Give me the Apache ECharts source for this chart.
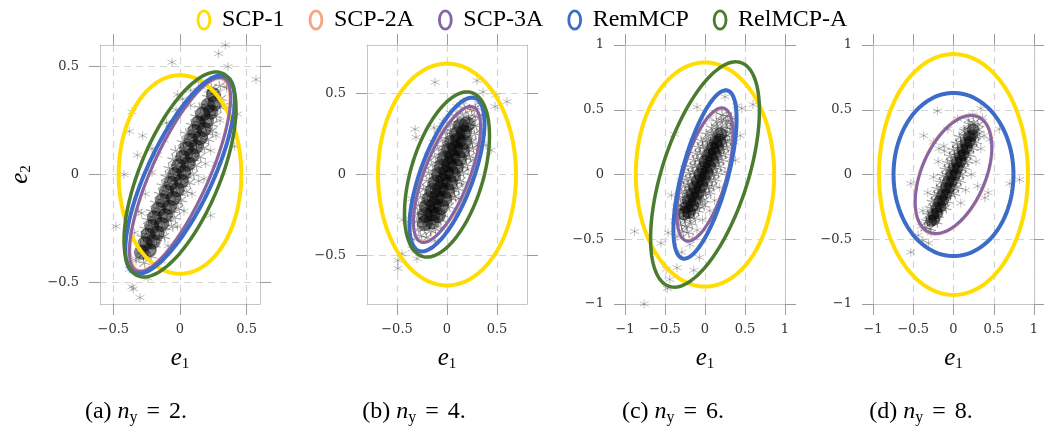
<!DOCTYPE html>
<html lang="en">
<head>
<meta charset="UTF-8">
<title>Ellipsoidal bounds</title>
<script src="https://cdn.jsdelivr.net/npm/echarts@6/dist/echarts.min.js"></script>
<style>
  html, body { margin: 0; padding: 0; background: #fff; }
  #chart { width: 1044px; height: 429px; }
</style>
</head>
<body>
<div id="chart"></div>
<script>
// methods shown in the legend
const methods = ['SCP-1', 'SCP-2A', 'SCP-3A', 'RemMCP', 'RelMCP-A'];
const colors = ['#FFDD00', '#F4A582', '#8466A6', '#3C6CC8', '#4B7B2E'];
const widths = [4, 3, 3, 4, 3.5];

// subfigure captions
const captionLetters = ['a', 'b', 'c', 'd'];
const outputCounts = [2, 4, 6, 8];

// axis half-ranges and tick values
const axisLimits = [0.6, 0.8, 1, 1];
const ticksSmall = [-0.5, 0, 0.5];
const ticksLarge = [-1, -0.5, 0, 0.5, 1];

// ellipses: [half width in e1, half height in e2, e1 at the topmost point], one per method
const ellipsesA = [[0.46, 0.46, 0], [0.375, 0.445, 0.295], [0.38, 0.45, 0.30], [0.41, 0.46, 0.31], [0.42, 0.475, 0.27]];
const ellipsesB = [[0.69, 0.685, 0], [0.34, 0.415, 0.23], [0.335, 0.42, 0.235], [0.375, 0.475, 0.25], [0.425, 0.51, 0.20]];
const ellipsesC = [[0.865, 0.865, 0], [0.355, 0.51, 0.21], [0.35, 0.515, 0.21], [0.395, 0.65, 0.26], [0.68, 0.87, 0.385]];
const ellipsesD = [[0.925, 0.93, 0], [0.48, 0.46, 0.22], [0.475, 0.455, 0.22], [0.745, 0.63, 0], null];

// error samples
const cloudA = [
  [0.24,0.40],[0.30,0.41],[0.21,0.36],[0.26,0.37],[0.31,0.35],[0.15,0.31],[0.20,0.32],[0.25,0.30],[0.30,0.31],
  [0.12,0.27],[0.17,0.26],[0.22,0.28],[0.27,0.27],[0.09,0.23],[0.14,0.24],[0.19,0.22],[0.24,0.23],
  [0.05,0.19],[0.10,0.20],[0.15,0.18],[0.20,0.19],[0.24,0.20],[0.02,0.15],[0.07,0.16],[0.12,0.14],[0.17,0.15],[0.21,0.16],
  [-0.03,0.11],[0.03,0.12],[0.08,0.10],[0.13,0.11],[0.18,0.12],[-0.05,0.07],[0.00,0.08],[0.05,0.06],[0.10,0.07],[0.15,0.08],
  [-0.08,0.03],[-0.03,0.04],[0.02,0.02],[0.07,0.03],[0.12,0.04],[-0.10,-0.01],[-0.05,0.00],[0.00,-0.02],[0.05,-0.01],[0.10,0.00],
  [-0.13,-0.05],[-0.08,-0.04],[-0.03,-0.06],[0.02,-0.05],[0.07,-0.04],[-0.15,-0.09],[-0.10,-0.08],[-0.05,-0.10],[0.00,-0.09],[0.05,-0.08],
  [-0.18,-0.13],[-0.13,-0.12],[-0.08,-0.14],[-0.03,-0.13],[0.01,-0.12],[-0.21,-0.17],[-0.16,-0.16],[-0.11,-0.18],[-0.06,-0.17],[-0.01,-0.16],
  [-0.24,-0.21],[-0.19,-0.20],[-0.14,-0.22],[-0.09,-0.21],[-0.04,-0.20],[-0.26,-0.25],[-0.21,-0.24],[-0.16,-0.26],[-0.11,-0.25],[-0.06,-0.24],
  [-0.28,-0.29],[-0.23,-0.28],[-0.18,-0.30],[-0.12,-0.29],[-0.29,-0.33],[-0.24,-0.34],[-0.19,-0.33],[-0.28,-0.37],[-0.22,-0.38],[-0.27,-0.41]
];
const denseA = [
  [-0.29,-0.36],[-0.23,-0.35],[-0.26,-0.32],[-0.20,-0.31],[-0.24,-0.28],[-0.17,-0.27],[-0.21,-0.24],[-0.14,-0.23],
  [-0.19,-0.20],[-0.11,-0.19],[-0.16,-0.16],[-0.08,-0.15],[-0.13,-0.12],[-0.05,-0.11],[-0.10,-0.08],[-0.02,-0.07],
  [-0.07,-0.04],[0.01,-0.03],[-0.04,0.00],[0.03,0.01],[-0.01,0.04],[0.06,0.05],[0.02,0.08],[0.09,0.09],
  [0.05,0.12],[0.12,0.13],[0.08,0.16],[0.15,0.17],[0.11,0.20],[0.18,0.21],[0.14,0.24],[0.20,0.25],
  [0.17,0.28],[0.23,0.29],[0.21,0.32],[0.26,0.33],[0.25,0.37]
];
const strayA = [
  [0.34,0.60],[0.29,0.56],[-0.06,0.52],[0.36,0.50],[0.57,0.44],[-0.36,0.29],[-0.38,0.20],[-0.28,0.18],[-0.32,0.09],[-0.42,0.00],
  [-0.48,-0.24],[0.23,-0.19],[0.41,0.13],[0.43,0.28],[-0.36,-0.52],[-0.35,-0.53],[-0.30,-0.57],[-0.24,-0.48],[-0.38,-0.44],[-0.33,-0.39],
  [-0.27,-0.38],[0.35,0.41],[0.38,0.32],[0.21,0.39],[-0.02,0.37],[0.08,0.32],[-0.10,0.24],[-0.21,0.12],[0.27,0.05],[0.18,-0.02],
  [-0.29,-0.18],[-0.24,-0.32],[-0.14,-0.29],[-0.33,-0.40],[-0.34,-0.27],[-0.31,-0.17],[-0.26,-0.09],[-0.21,0.01],[-0.17,0.09],[-0.12,0.16],
  [-0.08,0.23],[-0.03,0.30],[0.02,0.35],[0.08,0.39],[0.14,0.43],[-0.14,-0.40],[-0.09,-0.33],[-0.02,-0.24],[0.03,-0.17],[0.09,-0.09],
  [0.14,-0.03],[0.19,0.05],[0.23,0.11],[0.27,0.18],[0.30,0.25],[0.33,0.32],[0.35,0.40]
];

const cloudB = [
  [0.18,0.41],[0.24,0.40],[0.29,0.41],[0.10,0.36],[0.16,0.37],[0.22,0.35],[0.28,0.36],[0.32,0.35],
  [0.05,0.31],[0.11,0.32],[0.17,0.30],[0.23,0.31],[0.29,0.30],[-0.02,0.26],[0.04,0.27],[0.10,0.25],[0.16,0.26],[0.22,0.27],[0.28,0.25],
  [-0.05,0.21],[0.01,0.22],[0.07,0.20],[0.13,0.21],[0.19,0.22],[0.25,0.20],[-0.09,0.16],[-0.03,0.17],[0.03,0.15],[0.09,0.16],[0.15,0.17],[0.21,0.15],[0.26,0.16],
  [-0.12,0.11],[-0.06,0.12],[0.00,0.10],[0.06,0.11],[0.12,0.12],[0.18,0.10],[0.23,0.11],[-0.15,0.06],[-0.09,0.07],[-0.03,0.05],[0.03,0.06],[0.09,0.07],[0.15,0.05],[0.20,0.06],
  [-0.18,0.01],[-0.12,0.02],[-0.06,0.00],[0.00,0.01],[0.06,0.02],[0.11,0.00],[0.16,0.01],[-0.20,-0.04],[-0.14,-0.03],[-0.08,-0.05],[-0.02,-0.04],[0.04,-0.03],[0.09,-0.05],[0.14,-0.04],
  [-0.23,-0.09],[-0.17,-0.08],[-0.11,-0.10],[-0.05,-0.09],[0.01,-0.08],[0.07,-0.10],[0.11,-0.09],[-0.26,-0.14],[-0.20,-0.13],[-0.14,-0.15],[-0.08,-0.14],[-0.02,-0.13],[0.04,-0.15],[0.08,-0.14],
  [-0.28,-0.19],[-0.22,-0.18],[-0.16,-0.20],[-0.10,-0.19],[-0.04,-0.18],[0.02,-0.20],[-0.29,-0.24],[-0.23,-0.25],[-0.17,-0.23],[-0.11,-0.24],[-0.05,-0.25],
  [-0.30,-0.29],[-0.24,-0.28],[-0.18,-0.30],[-0.12,-0.29],[-0.07,-0.28],[-0.29,-0.34],[-0.23,-0.33],[-0.17,-0.35],[-0.12,-0.34],[-0.26,-0.38],[-0.20,-0.39]
];
const denseB = [
  [-0.22,-0.30],[-0.15,-0.29],[-0.22,-0.25],[-0.15,-0.24],[-0.09,-0.25],[-0.20,-0.20],[-0.13,-0.19],[-0.06,-0.20],
  [-0.17,-0.15],[-0.10,-0.14],[-0.03,-0.15],[-0.14,-0.10],[-0.07,-0.09],[0.00,-0.10],[-0.11,-0.05],[-0.04,-0.04],[0.03,-0.05],
  [-0.08,0.00],[-0.01,0.01],[0.06,0.00],[-0.05,0.05],[0.02,0.06],[0.09,0.05],[-0.02,0.10],[0.05,0.11],[0.12,0.10],
  [0.02,0.15],[0.08,0.16],[0.15,0.15],[0.05,0.20],[0.11,0.21],[0.17,0.20],[0.10,0.25],[0.17,0.26],[0.14,0.30],[0.20,0.31]
];
const strayB = [
  [-0.12,0.57],[0.30,0.58],[0.36,0.51],[0.49,0.49],[0.60,0.45],[0.48,0.42],[-0.32,0.28],[-0.31,0.23],[-0.13,0.29],[0.44,0.15],
  [0.39,0.18],[-0.35,-0.15],[-0.44,-0.28],[-0.45,-0.49],[-0.49,-0.53],[-0.49,-0.58],[-0.30,-0.52],[-0.35,-0.46],[0.09,-0.24],[0.25,0.22],
  [0.22,0.34],[-0.33,-0.40],[-0.36,-0.30],[-0.33,-0.20],[-0.28,-0.08],[-0.24,0.03],[-0.19,0.12],[-0.14,0.20],[-0.09,0.27],[-0.04,0.33],
  [0.03,0.38],[0.10,0.42],[0.16,0.45],[0.12,-0.15],[0.16,-0.06],[0.21,0.03],[0.26,0.09],[0.30,0.18],[0.33,0.27],[0.35,0.37],
  [0.31,0.44],[-0.12,-0.41],[-0.06,-0.33]
];

const cloudC = [
  [0.22,0.46],[0.28,0.45],[0.15,0.41],[0.21,0.42],[0.27,0.40],[0.32,0.41],[0.09,0.36],[0.15,0.37],[0.21,0.35],[0.27,0.36],[0.33,0.35],
  [0.03,0.31],[0.09,0.32],[0.15,0.30],[0.21,0.31],[0.27,0.30],[0.32,0.32],[-0.04,0.26],[0.02,0.27],[0.08,0.25],[0.14,0.26],[0.20,0.27],[0.26,0.25],[0.31,0.26],
  [-0.08,0.21],[-0.02,0.22],[0.04,0.20],[0.10,0.21],[0.16,0.22],[0.22,0.20],[0.28,0.21],[-0.11,0.16],[-0.05,0.17],[0.01,0.15],[0.07,0.16],[0.13,0.17],[0.19,0.15],[0.25,0.16],
  [-0.14,0.11],[-0.08,0.12],[-0.02,0.10],[0.04,0.11],[0.10,0.12],[0.16,0.10],[0.22,0.11],[-0.17,0.06],[-0.11,0.07],[-0.05,0.05],[0.01,0.06],[0.07,0.07],[0.13,0.05],[0.19,0.06],
  [-0.20,0.01],[-0.14,0.02],[-0.08,0.00],[-0.02,0.01],[0.04,0.02],[0.10,0.00],[0.16,0.01],[-0.23,-0.04],[-0.17,-0.03],[-0.11,-0.05],[-0.05,-0.04],[0.01,-0.03],[0.07,-0.05],[0.13,-0.04],
  [-0.26,-0.09],[-0.20,-0.08],[-0.14,-0.10],[-0.08,-0.09],[-0.02,-0.08],[0.04,-0.10],[0.10,-0.09],[-0.29,-0.14],[-0.23,-0.13],[-0.17,-0.15],[-0.11,-0.14],[-0.05,-0.13],[0.01,-0.15],[0.06,-0.14],
  [-0.31,-0.19],[-0.25,-0.18],[-0.19,-0.20],[-0.13,-0.19],[-0.07,-0.18],[-0.01,-0.20],[-0.32,-0.24],[-0.26,-0.25],[-0.20,-0.23],[-0.14,-0.24],[-0.08,-0.25],[-0.02,-0.24],
  [-0.33,-0.29],[-0.27,-0.28],[-0.21,-0.30],[-0.15,-0.29],[-0.09,-0.28],[-0.32,-0.34],[-0.26,-0.35],[-0.20,-0.33],[-0.13,-0.34],
  [-0.30,-0.39],[-0.24,-0.40],[-0.17,-0.38],[-0.28,-0.44],[-0.21,-0.45]
];
const denseC = [
  [-0.26,-0.30],[-0.20,-0.29],[-0.23,-0.25],[-0.16,-0.24],[-0.20,-0.20],[-0.12,-0.19],[-0.16,-0.15],[-0.09,-0.14],
  [-0.13,-0.10],[-0.05,-0.09],[-0.09,-0.05],[-0.02,-0.04],[-0.06,0.00],[0.02,0.01],[-0.02,0.05],[0.05,0.06],
  [0.01,0.10],[0.09,0.11],[0.05,0.15],[0.12,0.16],[0.09,0.20],[0.15,0.21],[0.13,0.25],[0.18,0.26],[0.19,0.31]
];
const strayC = [
  [-0.76,-1.0],[-0.88,-0.44],[-0.55,-0.53],[-0.48,-0.73],[-0.35,-0.72],[-0.44,-0.81],[-0.47,-0.88],[-0.14,-0.74],[-0.07,-0.64],[-0.29,-0.60],
  [-0.19,-0.54],[-0.10,0.52],[0.25,0.60],[0.46,0.51],[0.60,0.54],[0.40,0.53],[-0.38,0.31],[0.44,0.30],[0.38,0.11],[-0.42,-0.16],
  [-0.46,-0.45],[-0.38,-0.36],[-0.36,-0.25],[-0.30,-0.05],[-0.26,0.05],[-0.20,0.16],[-0.15,0.26],[-0.08,0.33],[-0.02,0.40],[0.06,0.44],
  [0.14,0.48],[0.33,0.44],[0.36,0.38],[0.37,0.25],[0.32,0.12],[0.25,0.02],[0.18,-0.10],[0.12,-0.20],[0.06,-0.28],[-0.03,-0.35],
  [-0.10,-0.43],[-0.15,-0.49],[-0.35,-0.48]
];

const cloudD = [
  [0.20,0.39],[0.26,0.40],[0.31,0.38],[0.14,0.34],[0.20,0.35],[0.26,0.33],[0.31,0.34],[0.08,0.29],[0.14,0.30],[0.20,0.28],[0.26,0.29],[0.30,0.30],
  [0.04,0.24],[0.10,0.25],[0.16,0.23],[0.22,0.24],[0.28,0.25],[0.00,0.19],[0.06,0.20],[0.12,0.18],[0.18,0.19],[0.24,0.20],
  [-0.04,0.14],[0.02,0.15],[0.08,0.13],[0.14,0.14],[0.20,0.15],[-0.07,0.09],[-0.01,0.10],[0.05,0.08],[0.11,0.09],[0.17,0.10],
  [-0.10,0.04],[-0.04,0.05],[0.02,0.03],[0.08,0.04],[0.14,0.05],[-0.13,-0.01],[-0.07,0.00],[-0.01,-0.02],[0.05,-0.01],[0.11,0.00],
  [-0.16,-0.06],[-0.10,-0.05],[-0.04,-0.07],[0.02,-0.06],[0.08,-0.05],[-0.20,-0.11],[-0.14,-0.10],[-0.08,-0.12],[-0.02,-0.11],[0.05,-0.10],
  [-0.23,-0.16],[-0.17,-0.15],[-0.11,-0.17],[-0.05,-0.16],[0.01,-0.15],[-0.26,-0.21],[-0.20,-0.20],[-0.14,-0.22],[-0.08,-0.21],
  [-0.28,-0.26],[-0.22,-0.25],[-0.16,-0.27],[-0.10,-0.26],[-0.31,-0.31],[-0.25,-0.30],[-0.19,-0.32],[-0.33,-0.36],[-0.27,-0.35],[-0.21,-0.37],
  [-0.35,-0.41],[-0.29,-0.42]
];
const denseD = [
  [-0.28,-0.36],[-0.24,-0.35],[-0.25,-0.31],[-0.20,-0.30],[-0.21,-0.26],[-0.16,-0.25],[-0.18,-0.21],[-0.13,-0.20],
  [-0.14,-0.16],[-0.09,-0.15],[-0.10,-0.11],[-0.05,-0.10],[-0.07,-0.06],[-0.02,-0.05],[-0.03,-0.01],[0.02,0.00],
  [0.00,0.04],[0.05,0.05],[0.04,0.09],[0.09,0.10],[0.08,0.14],[0.12,0.15],[0.11,0.19],[0.16,0.20],
  [0.15,0.24],[0.20,0.25],[0.19,0.29],[0.23,0.30],[0.24,0.35]
];
const strayD = [
  [-0.20,0.49],[0.34,0.51],[-0.37,0.30],[-0.53,-0.07],[0.70,-0.07],[0.82,-0.04],[-0.53,-0.60],[-0.44,-0.47],[-0.38,-0.51],[-0.31,-0.53],
  [-0.28,-0.45],[-0.18,0.20],[-0.11,0.18],[0.43,-0.14],[0.39,-0.18],[0.30,-0.09],[0.18,0.42],[0.05,0.43],[-0.07,0.35],[0.14,0.35],
  [0.57,0.35],[0.36,0.44],[0.38,0.30],[0.34,0.20],[0.28,0.10],[0.22,0.00],[0.15,-0.12],[0.09,-0.22],[-0.12,0.22],[-0.19,0.10],
  [-0.25,-0.02],[-0.32,-0.14],[-0.38,-0.28],[-0.40,-0.40],[-0.25,0.25],[0.24,0.46],[0.45,0.27]
];

const ellipses = [ellipsesA, ellipsesB, ellipsesC, ellipsesD];
const clouds = [cloudA, cloudB, cloudC, cloudD];
const denses = [denseA, denseB, denseC, denseD];
const strays = [strayA, strayB, strayC, strayD];

const gridLeft = [100, 367, 625, 873];
const gridWidth = [160, 160, 160, 161];
const denseSize = [15, 16, 14, 12];
const captionCenter = [131, 409, 668, 916];

const serif = 'Liberation Serif';
const tickFont = 'DejaVu Serif';
const asterisk = 'path://M5,0L5,10M0.67,2.5L9.33,7.5M0.67,7.5L9.33,2.5';
const ring = 'path://M0,10A7,10,0,1,1,14,10A7,10,0,1,1,0,10ZM2.7,10A4.3,7.3,0,1,0,11.3,10A4.3,7.3,0,1,0,2.7,10Z';

const fmt = v => String(v).replace('-', '\u2212');
const nameRich = {
  e: { fontFamily: serif, fontStyle: 'italic', fontSize: 25, lineHeight: 28, color: '#000' },
  s: { fontFamily: serif, fontSize: 15, lineHeight: 15, verticalAlign: 'bottom', color: '#000' }
};

const chart = echarts.init(document.getElementById('chart'));

const grids = [], xAxes = [], yAxes = [], series = [];

function axisPair(i, ticks, lim, isX) {
  const line = { onZero: false, lineStyle: { color: '#c6c6c6', width: 1 } };
  const tick = { inside: false, length: 11, customValues: ticks, lineStyle: { color: '#9c9c9c', width: 1 } };
  const main = {
    gridIndex: i, type: 'value', min: -lim, max: lim,
    position: isX ? 'bottom' : 'left',
    axisLine: line, axisTick: tick,
    axisLabel: { customValues: ticks, formatter: fmt, margin: isX ? 19 : 21, fontFamily: tickFont, fontSize: 13, color: '#333' },
    splitLine: { show: true, lineStyle: { type: [7, 5], color: '#d4d4d4', width: 1.2 } }
  };
  if (isX) {
    main.name = '{e|e}{s|1}';
    main.nameLocation = 'middle';
    main.nameGap = 40;
    main.nameTextStyle = { rich: nameRich };
  } else if (i === 0) {
    main.name = '{e|e}{s|2}';
    main.nameLocation = 'middle';
    main.nameGap = 66;
    main.nameTextStyle = { rich: nameRich };
  }
  const other = {
    gridIndex: i, type: 'value', min: -lim, max: lim,
    position: isX ? 'top' : 'right',
    axisLine: line, axisTick: tick,
    axisLabel: { show: false }, splitLine: { show: false }
  };
  return [main, other];
}

function ellipseRenderer(lineWidth) {
  return function (params, api) {
    const a = api.value(0), c = api.value(1), xt = api.value(2);
    const k = xt * c / a;
    const m = Math.sqrt(c * c - k * k);
    const pts = [];
    for (let j = 0; j < 160; j++) {
      const t = j / 160 * Math.PI * 2;
      pts.push(api.coord([a * Math.cos(t), k * Math.cos(t) + m * Math.sin(t)]));
    }
    return { type: 'polygon', shape: { points: pts }, style: { fill: 'none', stroke: api.visual('color'), lineWidth: lineWidth } };
  };
}

for (let i = 0; i < 4; i++) {
  const lim = axisLimits[i];
  const ticks = lim < 1 ? ticksSmall : ticksLarge;
  grids.push({ left: gridLeft[i], top: 45, width: gridWidth[i], height: 259 });
  xAxes.push(...axisPair(i, ticks, lim, true));
  yAxes.push(...axisPair(i, ticks, lim, false));

  const ax = { xAxisIndex: 2 * i, yAxisIndex: 2 * i };
  series.push({
    type: 'scatter', ...ax, data: strays[i], symbol: asterisk, symbolSize: 9, silent: true, z: 1,
    itemStyle: { color: 'rgba(0,0,0,0)', borderColor: 'rgba(0,0,0,0.3)', borderWidth: 1 }
  });
  series.push({
    type: 'scatter', ...ax, data: denses[i], symbol: 'circle', symbolSize: denseSize[i], silent: true, z: 1,
    itemStyle: { color: 'rgba(0,0,0,0.6)' }
  });
  series.push({
    type: 'scatter', ...ax, data: clouds[i], symbol: asterisk, symbolSize: 11, symbolRotate: 12, silent: true, z: 1,
    itemStyle: { color: 'rgba(0,0,0,0)', borderColor: 'rgba(0,0,0,0.45)', borderWidth: 1.1 }
  });
  ellipses[i].forEach((e, j) => {
    if (!e) return;
    series.push({
      type: 'custom', name: methods[j], ...ax, z: 2 + j, silent: true,
      itemStyle: { color: colors[j] },
      renderItem: ellipseRenderer(widths[j]),
      data: [e]
    });
  });
}

const option = {
  animation: false,
  legend: {
    top: 3, left: 'center', itemWidth: 26, itemHeight: 21, itemGap: 24,
    textStyle: { fontFamily: serif, fontSize: 24, color: '#000' },
    data: methods.map((m, j) => ({ name: m, icon: ring, itemStyle: { color: colors[j] } }))
  },
  title: captionLetters.map((c, i) => ({
    text: '(' + c + ') {i|n}{s|y}{q|=}' + outputCounts[i] + '.',
    left: captionCenter[i], top: 393, textAlign: 'center',
    textStyle: {
      fontFamily: serif, fontSize: 24, fontWeight: 'normal', color: '#000',
      rich: {
        i: { fontFamily: serif, fontStyle: 'italic', fontSize: 24, lineHeight: 28 },
        s: { fontFamily: serif, fontSize: 16, lineHeight: 16, verticalAlign: 'bottom' },
        q: { fontFamily: serif, fontSize: 24, lineHeight: 28, padding: [0, 9, 0, 9] }
      }
    }
  })),
  grid: grids,
  xAxis: xAxes,
  yAxis: yAxes,
  series: series
};

chart.setOption(option);
</script>
</body>
</html>
